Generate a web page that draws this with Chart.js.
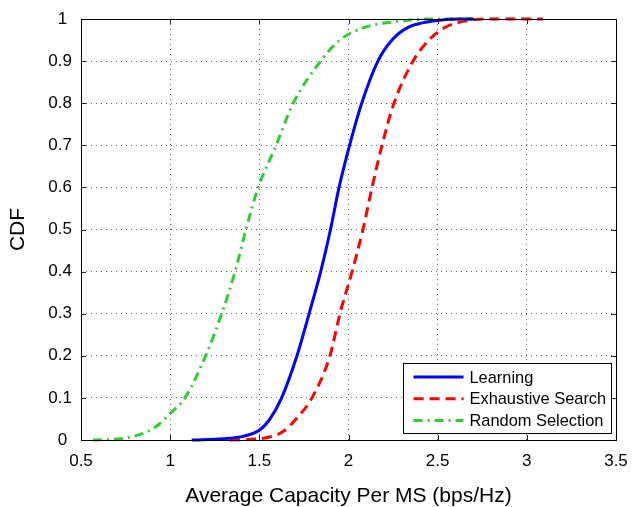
<!DOCTYPE html>
<html>
<head>
<meta charset="utf-8">
<script src="https://cdn.jsdelivr.net/npm/chart.js@4/dist/chart.umd.min.js"></script>
<style>
  html, body { margin: 0; padding: 0; background: #ffffff; }
  #wrap { width: 632px; height: 507px; }
</style>
</head>
<body>
<div id="wrap"><canvas id="cdf" width="632" height="507"></canvas></div>
<script>
// Average capacity per MS (bps/Hz) and the CDF value reached there, per scheme
const learningX   = [1.121, 1.30, 1.40, 1.50, 1.56, 1.625, 1.711, 1.779, 1.844, 1.899, 1.947, 2.006, 2.074, 2.165, 2.244, 2.334, 2.474, 2.625, 2.70];
const learningY   = [0.000, 0.003, 0.008, 0.023, 0.05, 0.10, 0.20, 0.30, 0.40, 0.50, 0.60, 0.70, 0.80, 0.90, 0.95, 0.98, 0.995, 1.00, 1.00];

const exhaustiveX = [1.336, 1.50, 1.633, 1.706, 1.795, 1.896, 1.952, 2.02, 2.081, 2.132, 2.188, 2.255, 2.362, 2.451, 2.541, 2.653, 2.793, 3.09];
const exhaustiveY = [0.000, 0.003, 0.02, 0.05, 0.10, 0.20, 0.30, 0.40, 0.50, 0.60, 0.70, 0.80, 0.90, 0.95, 0.98, 0.995, 1.00, 1.00];

const randomX     = [0.567, 0.69, 0.79, 0.915, 1.00, 1.083, 1.199, 1.289, 1.364, 1.425, 1.494, 1.594, 1.69, 1.844, 1.952, 2.09, 2.29, 2.457, 2.70];
const randomY     = [0.000, 0.002, 0.008, 0.03, 0.063, 0.10, 0.20, 0.30, 0.40, 0.50, 0.60, 0.70, 0.80, 0.90, 0.95, 0.98, 0.995, 1.00, 1.00];

const seriesNames = ['Learning', 'Exhaustive Search', 'Random Selection'];
const xTicks = [0.5, 1, 1.5, 2, 2.5, 3, 3.5];
const yTicks = [0, 0.1, 0.2, 0.3, 0.4, 0.5, 0.6, 0.7, 0.8, 0.9, 1];

const FONT = "'Liberation Sans', Arial, Helvetica, sans-serif";

function pairs(xs, ys) {
  return xs.map((x, i) => ({ x: x, y: ys[i] }));
}

// Box around the axes, MATLAB-style inward tick marks and the legend
const axesFrame = {
  id: 'axesFrame',
  afterDraw(chart) {
    const { ctx, chartArea: a, scales } = chart;
    const len = 5;
    ctx.save();
    ctx.strokeStyle = '#222';
    ctx.lineWidth = 1;
    ctx.beginPath();
    xTicks.forEach(v => {
      const px = Math.round(scales.x.getPixelForValue(v)) + 0.5;
      ctx.moveTo(px, a.bottom); ctx.lineTo(px, a.bottom - len);
      ctx.moveTo(px, a.top);    ctx.lineTo(px, a.top + len);
    });
    yTicks.forEach(v => {
      const py = Math.round(scales.y.getPixelForValue(v)) + 0.5;
      ctx.moveTo(a.left, py);  ctx.lineTo(a.left + len, py);
      ctx.moveTo(a.right, py); ctx.lineTo(a.right - len, py);
    });
    ctx.stroke();

    ctx.strokeStyle = '#000';
    ctx.strokeRect(Math.round(a.left) + 0.5, Math.round(a.top) + 0.5,
                   Math.round(a.right - a.left), Math.round(a.bottom - a.top));

    // legend in the lower right corner of the axes
    const boxW = 208, boxH = 70;
    const bx = Math.round(a.right - 5 - boxW) + 0.5;
    const by = Math.round(a.bottom - 7 - boxH) + 0.5;
    ctx.fillStyle = '#ffffff';
    ctx.fillRect(bx, by, boxW, boxH);
    ctx.strokeStyle = '#000';
    ctx.lineWidth = 1;
    ctx.strokeRect(bx, by, boxW, boxH);

    ctx.font = '16.4px ' + FONT;
    ctx.textBaseline = 'middle';
    ctx.textAlign = 'left';
    chart.data.datasets.forEach((ds, i) => {
      const cy = by + 13.5 + i * 21.7;
      ctx.save();
      ctx.strokeStyle = ds.borderColor;
      ctx.lineWidth = ds.borderWidth;
      ctx.lineCap = 'butt';
      ctx.setLineDash(ds.borderDash || []);
      ctx.beginPath();
      ctx.moveTo(bx + 10, cy);
      ctx.lineTo(bx + 60, cy);
      ctx.stroke();
      ctx.restore();
      ctx.fillStyle = '#000';
      ctx.fillText(ds.label, bx + 66, cy + 1);
    });
    ctx.restore();
  }
};

const lineStyle = { showLine: true, pointRadius: 0, pointHoverRadius: 0, borderWidth: 3,
                    borderCapStyle: 'butt', cubicInterpolationMode: 'monotone', clip: false, fill: false };

new Chart(document.getElementById('cdf'), {
  type: 'scatter',
  data: {
    datasets: [
      Object.assign({ label: seriesNames[0], data: pairs(learningX, learningY),
        borderColor: '#0000ff', backgroundColor: '#0000ff', borderDash: [] }, lineStyle),
      Object.assign({ label: seriesNames[1], data: pairs(exhaustiveX, exhaustiveY),
        borderColor: '#ff0000', backgroundColor: '#ff0000', borderDash: [10, 6] }, lineStyle),
      Object.assign({ label: seriesNames[2], data: pairs(randomX, randomY),
        borderColor: '#33cc33', backgroundColor: '#33cc33', borderDash: [9, 5, 2, 5] }, lineStyle)
    ]
  },
  options: {
    responsive: false,
    animation: false,
    events: [],
    layout: { padding: { top: 19, right: 16, bottom: 0, left: 0 } },
    plugins: { legend: { display: false }, tooltip: { enabled: false } },
    scales: {
      x: {
        type: 'linear', min: 0.5, max: 3.5,
        afterBuildTicks(scale) { scale.ticks = xTicks.map(v => ({ value: v })); },
        afterFit(scale) { scale.height = 67; scale.paddingLeft = 0; scale.paddingRight = 0; },
        ticks: {
          color: '#000', padding: 11, maxRotation: 0, autoSkip: false,
          font: { family: FONT, size: 17 },
          callback: v => String(v)
        },
        grid: { color: 'rgba(0,0,0,0.6)', lineWidth: 1, drawTicks: false },
        border: { display: false, dash: [1, 4] },
        title: { display: true, text: 'Average Capacity Per MS (bps/Hz)', color: '#000',
                 font: { family: FONT, size: 21, lineHeight: 1 }, padding: { top: 0, bottom: 0 } }
      },
      y: {
        type: 'linear', min: 0, max: 1,
        afterBuildTicks(scale) { scale.ticks = yTicks.map(v => ({ value: v })); },
        afterFit(scale) { scale.width = 81; scale.paddingTop = 0; scale.paddingBottom = 0; },
        ticks: {
          color: '#000', padding: 9, autoSkip: false,
          font: { family: FONT, size: 17 },
          callback: v => Number.isInteger(v) ? v + ' ' : String(v)
        },
        grid: { color: 'rgba(0,0,0,0.6)', lineWidth: 1, drawTicks: false },
        border: { display: false, dash: [1, 4] },
        title: { display: true, text: 'CDF', color: '#000',
                 font: { family: FONT, size: 21, lineHeight: 1 }, padding: { top: 8, bottom: 0 } }
      }
    }
  },
  plugins: [axesFrame]
});
</script>
</body>
</html>
